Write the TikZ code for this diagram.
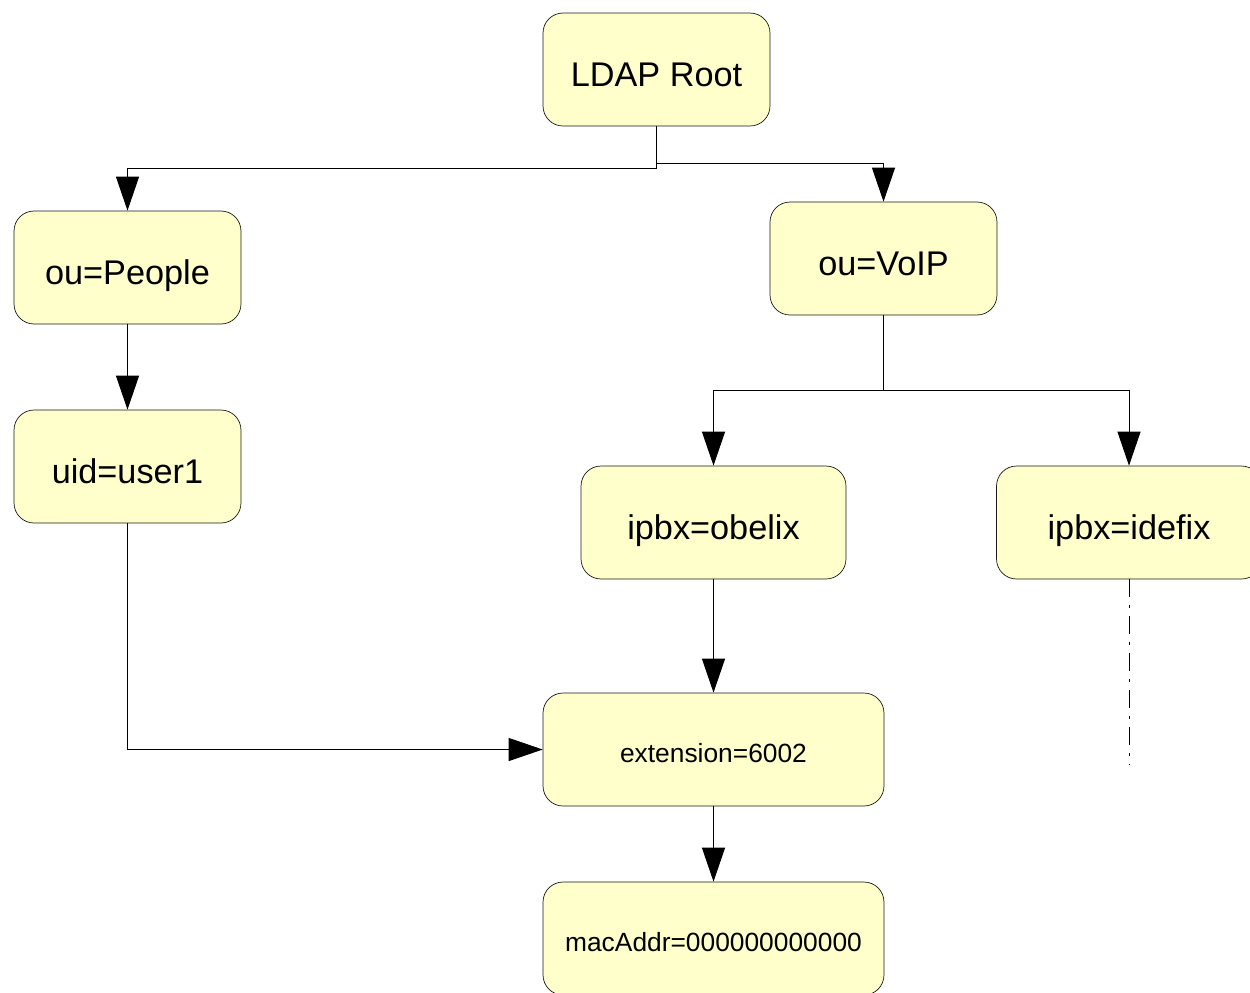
\documentclass[tikz,border=0pt]{standalone}
\usepackage{fontspec}
\setmainfont{Liberation Sans}
\usetikzlibrary{arrows.meta,positioning}
\definecolor{ldapfill}{HTML}{FFFFCC}

\begin{document}
\begin{tikzpicture}[
    x=0.02cm, y=-0.02cm,
    every node/.style={rounded corners=0.4cm, draw=black!90, fill=ldapfill, align=center, minimum width=4.54cm, minimum height=2.26cm, inner sep=0pt, text height=18.8pt, text depth=0pt, font=\fontsize{19.5}{23}\selectfont},
    small/.style={font=\fontsize{15}{18}\selectfont, text height=14.8pt},
    >={Triangle[length=6.8mm, width=4.6mm]},
    link/.style={->, draw=black, line width=0.55pt}
  ]
    \useasboundingbox (0,0) rectangle (1250,992);

    \node (root) at (656.5,69.5) {LDAP Root};
    \node (people) at (127.5,267.5) {ou=People};
    \node (voip) at (883.5,258.5) {ou=VoIP};
    \node (user) at (127.5,466.5) {uid=user1};
    \node[minimum width=5.3cm] (obelix) at (713.5,522.5) {ipbx=obelix};
    \node[minimum width=5.3cm] (idefix) at (1129,522.5) {ipbx=idefix};
    \node[small, minimum width=6.82cm] (ext) at (713.5,749.5) {extension=6002};
    \node[small, minimum width=6.82cm] (mac) at (713.5,938.5) {macAddr=000000000000};
    \coordinate (idefixend) at (1129,765);

    \draw[link] (root.south) -- ++(0,42) -| (people.north);
    \draw[link] (root.south) -- ++(0,37) -| (voip.north);
    \draw[link] (people) -- (user);
    \draw[link] (voip.south) -- ++(0,75) -| (obelix.north);
    \draw[link] (voip.south) -- ++(0,75) -| (idefix.north);
    \draw[link] (user.south) |- (ext.west);
    \draw[link] (obelix) -- (ext);
    \draw[link] (ext) -- (mac);
    \draw[draw=black, line width=0.55pt, dash pattern=on 0.36cm off 0.16cm on 0.06cm off 0.16cm] (idefix.south) -- (idefixend);
  \end{tikzpicture}
\end{document}
